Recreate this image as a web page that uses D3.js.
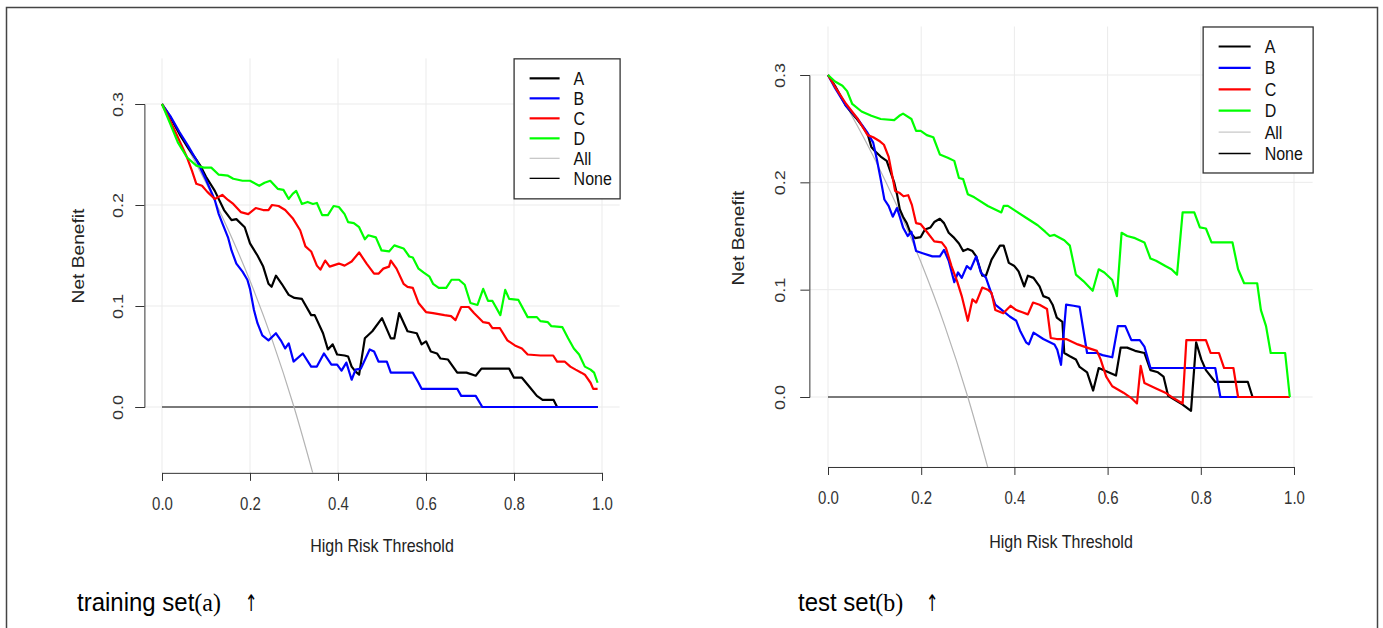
<!DOCTYPE html>
<html><head><meta charset="utf-8">
<script src="https://cdn.jsdelivr.net/npm/d3@7"></script>
<style>
body{margin:0;background:#fff;}
svg text{font-family:"Liberation Sans",Arial,sans-serif;}
</style></head>
<body><svg id="c" width="1383" height="628"></svg>
<script>
// ---------- DATA ----------
const xTicks = [0, 0.2, 0.4, 0.6, 0.8, 1.0];
const yTicks = [0, 0.1, 0.2, 0.3];
const seriesNames = ["A", "B", "C", "D", "All", "None"];
const seriesColors = ["#000000", "#0000FF", "#FF0000", "#00FF00", "#BEBEBE", "#000000"];

// treat-all curve (prevalence 0.3)
const allCurve = [[0,0.3],[0.05,0.263],[0.1,0.222],[0.15,0.176],[0.2,0.125],[0.25,0.067],[0.3,0.0],[0.35,-0.077]];
const noneCurve = [[0,0],[0.99,0]];

// training set (a)
const trainA = [[0,0.3],[0.019,0.287],[0.04,0.27],[0.06,0.256],[0.078,0.245],[0.087,0.239],[0.1,0.228],[0.12,0.214],[0.141,0.195],[0.158,0.185],[0.169,0.186],[0.188,0.178],[0.2,0.162],[0.217,0.15],[0.23,0.139],[0.242,0.122],[0.249,0.119],[0.259,0.13],[0.272,0.122],[0.288,0.111],[0.301,0.108],[0.318,0.107],[0.339,0.091],[0.347,0.091],[0.366,0.073],[0.377,0.057],[0.388,0.062],[0.398,0.052],[0.415,0.051],[0.423,0.05],[0.431,0.04],[0.44,0.035],[0.448,0.032],[0.461,0.068],[0.478,0.075],[0.5,0.088],[0.52,0.068],[0.528,0.068],[0.539,0.093],[0.558,0.075],[0.579,0.073],[0.59,0.062],[0.6,0.065],[0.611,0.055],[0.625,0.053],[0.633,0.048],[0.65,0.047],[0.671,0.034],[0.692,0.034],[0.713,0.031],[0.726,0.038],[0.789,0.038],[0.8,0.029],[0.818,0.029],[0.835,0.02],[0.852,0.011],[0.865,0.007],[0.89,0.007],[0.898,0],[0.99,0]];
const trainB = [[0,0.3],[0.019,0.288],[0.04,0.272],[0.06,0.258],[0.08,0.243],[0.1,0.225],[0.12,0.205],[0.129,0.191],[0.137,0.182],[0.15,0.168],[0.158,0.155],[0.169,0.142],[0.183,0.134],[0.194,0.126],[0.2,0.117],[0.209,0.096],[0.217,0.083],[0.228,0.071],[0.242,0.066],[0.259,0.073],[0.27,0.066],[0.28,0.058],[0.288,0.063],[0.299,0.045],[0.32,0.053],[0.339,0.04],[0.352,0.04],[0.368,0.053],[0.385,0.042],[0.398,0.042],[0.408,0.036],[0.419,0.044],[0.431,0.027],[0.44,0.037],[0.452,0.038],[0.472,0.057],[0.482,0.055],[0.492,0.045],[0.511,0.045],[0.52,0.034],[0.57,0.034],[0.583,0.024],[0.59,0.018],[0.671,0.018],[0.68,0.011],[0.713,0.011],[0.728,0],[0.99,0]];
const trainC = [[0,0.3],[0.019,0.283],[0.036,0.267],[0.057,0.247],[0.068,0.234],[0.078,0.221],[0.091,0.219],[0.103,0.213],[0.12,0.206],[0.137,0.21],[0.15,0.205],[0.162,0.201],[0.179,0.193],[0.196,0.191],[0.213,0.197],[0.23,0.195],[0.242,0.195],[0.25,0.2],[0.265,0.199],[0.28,0.195],[0.297,0.187],[0.314,0.175],[0.326,0.159],[0.339,0.154],[0.352,0.14],[0.36,0.136],[0.371,0.145],[0.381,0.139],[0.402,0.142],[0.415,0.14],[0.431,0.144],[0.448,0.153],[0.465,0.142],[0.482,0.132],[0.492,0.132],[0.503,0.137],[0.516,0.139],[0.52,0.145],[0.533,0.137],[0.549,0.122],[0.558,0.119],[0.57,0.118],[0.583,0.103],[0.6,0.094],[0.616,0.093],[0.642,0.091],[0.657,0.09],[0.667,0.086],[0.68,0.099],[0.697,0.099],[0.709,0.093],[0.73,0.084],[0.743,0.083],[0.751,0.078],[0.768,0.078],[0.785,0.066],[0.802,0.061],[0.818,0.058],[0.831,0.052],[0.86,0.051],[0.889,0.051],[0.898,0.045],[0.915,0.045],[0.928,0.04],[0.94,0.037],[0.953,0.034],[0.961,0.032],[0.974,0.024],[0.98,0.018],[0.99,0.018]];
const trainD = [[0,0.3],[0.019,0.28],[0.036,0.262],[0.057,0.247],[0.078,0.239],[0.095,0.237],[0.112,0.237],[0.129,0.23],[0.15,0.229],[0.162,0.226],[0.183,0.224],[0.2,0.224],[0.221,0.219],[0.233,0.222],[0.246,0.224],[0.263,0.216],[0.276,0.215],[0.288,0.206],[0.297,0.211],[0.305,0.214],[0.318,0.201],[0.331,0.203],[0.343,0.201],[0.352,0.202],[0.364,0.19],[0.377,0.19],[0.39,0.199],[0.402,0.198],[0.415,0.191],[0.423,0.183],[0.436,0.182],[0.448,0.178],[0.461,0.166],[0.469,0.17],[0.486,0.168],[0.499,0.155],[0.516,0.154],[0.528,0.16],[0.549,0.157],[0.562,0.149],[0.57,0.148],[0.583,0.137],[0.595,0.133],[0.608,0.129],[0.616,0.122],[0.629,0.118],[0.646,0.118],[0.658,0.126],[0.675,0.126],[0.688,0.121],[0.701,0.103],[0.717,0.101],[0.73,0.117],[0.741,0.105],[0.751,0.105],[0.769,0.091],[0.78,0.116],[0.789,0.107],[0.81,0.106],[0.831,0.089],[0.852,0.089],[0.86,0.085],[0.877,0.084],[0.885,0.08],[0.91,0.079],[0.923,0.068],[0.936,0.058],[0.948,0.052],[0.961,0.04],[0.974,0.037],[0.982,0.034],[0.99,0.024]];

// test set (b)
const testA = [[0,0.3],[0.015,0.29],[0.039,0.271],[0.06,0.26],[0.076,0.251],[0.085,0.245],[0.093,0.233],[0.101,0.229],[0.113,0.224],[0.126,0.22],[0.134,0.21],[0.142,0.2],[0.148,0.189],[0.154,0.175],[0.161,0.168],[0.169,0.162],[0.177,0.153],[0.187,0.148],[0.199,0.149],[0.208,0.156],[0.22,0.158],[0.228,0.163],[0.24,0.166],[0.249,0.162],[0.259,0.153],[0.269,0.149],[0.281,0.143],[0.29,0.136],[0.3,0.138],[0.31,0.136],[0.318,0.131],[0.331,0.113],[0.339,0.113],[0.351,0.128],[0.369,0.141],[0.377,0.141],[0.388,0.125],[0.4,0.122],[0.409,0.117],[0.421,0.103],[0.429,0.113],[0.441,0.111],[0.454,0.103],[0.462,0.094],[0.474,0.092],[0.482,0.086],[0.491,0.074],[0.503,0.07],[0.507,0.041],[0.519,0.038],[0.532,0.035],[0.54,0.028],[0.556,0.023],[0.569,0.006],[0.581,0.027],[0.597,0.024],[0.618,0.02],[0.628,0.046],[0.642,0.046],[0.659,0.043],[0.679,0.041],[0.692,0.025],[0.708,0.023],[0.72,0.019],[0.73,0.001],[0.761,-0.007],[0.779,-0.013],[0.79,0.051],[0.801,0.035],[0.811,0.025],[0.831,0.014],[0.901,0.014],[0.911,0],[0.99,0]];
const testB = [[0,0.3],[0.015,0.288],[0.039,0.271],[0.064,0.259],[0.085,0.246],[0.097,0.237],[0.105,0.221],[0.113,0.203],[0.121,0.184],[0.13,0.178],[0.139,0.168],[0.148,0.176],[0.154,0.168],[0.161,0.158],[0.171,0.15],[0.179,0.154],[0.189,0.136],[0.203,0.134],[0.224,0.131],[0.24,0.131],[0.249,0.137],[0.259,0.127],[0.271,0.107],[0.279,0.116],[0.287,0.111],[0.298,0.122],[0.306,0.119],[0.318,0.131],[0.328,0.116],[0.339,0.111],[0.359,0.086],[0.376,0.08],[0.39,0.075],[0.404,0.071],[0.413,0.061],[0.425,0.051],[0.431,0.049],[0.441,0.06],[0.462,0.054],[0.486,0.049],[0.492,0.044],[0.5,0.03],[0.511,0.086],[0.527,0.085],[0.54,0.084],[0.556,0.041],[0.577,0.041],[0.589,0.039],[0.61,0.037],[0.622,0.066],[0.638,0.066],[0.651,0.053],[0.669,0.053],[0.679,0.047],[0.692,0.027],[0.831,0.027],[0.842,0],[0.99,0]];
const testC = [[0,0.3],[0.015,0.289],[0.039,0.273],[0.064,0.259],[0.085,0.244],[0.097,0.242],[0.112,0.238],[0.12,0.235],[0.13,0.224],[0.138,0.206],[0.144,0.192],[0.154,0.19],[0.162,0.187],[0.172,0.188],[0.18,0.179],[0.189,0.162],[0.199,0.161],[0.212,0.154],[0.228,0.145],[0.244,0.144],[0.253,0.139],[0.265,0.122],[0.277,0.108],[0.287,0.094],[0.3,0.071],[0.31,0.091],[0.318,0.088],[0.331,0.102],[0.343,0.1],[0.351,0.097],[0.359,0.081],[0.376,0.078],[0.392,0.085],[0.404,0.081],[0.417,0.079],[0.429,0.077],[0.44,0.088],[0.454,0.086],[0.47,0.082],[0.478,0.055],[0.491,0.054],[0.511,0.054],[0.536,0.049],[0.556,0.046],[0.577,0.043],[0.585,0.035],[0.597,0.019],[0.61,0.01],[0.634,0.004],[0.651,-0.001],[0.663,-0.006],[0.671,0.029],[0.679,0.013],[0.704,0.008],[0.724,0.004],[0.741,-0.001],[0.761,-0.006],[0.769,0.053],[0.811,0.053],[0.821,0.041],[0.839,0.041],[0.85,0.027],[0.87,0.027],[0.88,0],[0.99,0]];
const testD = [[0,0.3],[0.015,0.294],[0.031,0.29],[0.041,0.285],[0.052,0.273],[0.072,0.266],[0.093,0.262],[0.113,0.259],[0.142,0.258],[0.153,0.262],[0.161,0.264],[0.179,0.259],[0.189,0.248],[0.199,0.248],[0.212,0.244],[0.226,0.242],[0.24,0.226],[0.257,0.223],[0.271,0.22],[0.281,0.204],[0.29,0.203],[0.3,0.189],[0.314,0.186],[0.343,0.178],[0.372,0.172],[0.377,0.178],[0.386,0.178],[0.404,0.173],[0.425,0.167],[0.45,0.16],[0.466,0.154],[0.476,0.15],[0.486,0.151],[0.507,0.146],[0.519,0.141],[0.532,0.114],[0.548,0.108],[0.568,0.099],[0.581,0.119],[0.593,0.116],[0.61,0.109],[0.62,0.094],[0.63,0.153],[0.642,0.15],[0.659,0.148],[0.679,0.144],[0.692,0.129],[0.704,0.127],[0.724,0.122],[0.737,0.119],[0.749,0.114],[0.761,0.172],[0.786,0.172],[0.798,0.158],[0.811,0.157],[0.823,0.144],[0.868,0.144],[0.88,0.119],[0.893,0.106],[0.921,0.106],[0.929,0.081],[0.94,0.066],[0.95,0.041],[0.981,0.041],[0.991,0]];

// ---------- DRAW ----------
const SY = 1.2; // vertical stretch of the original picture's text
const svg = d3.select("#c");
svg.append("rect").attr("x",6.5).attr("y",7.5).attr("width",1371).attr("height",640)
  .attr("fill","none").attr("stroke","#444").attr("stroke-width",1.5);

const panels = [
  {id:"a", x0:162, x1:602, y0:407, y3:104, series:[trainA,trainB,trainC,trainD],
   legend:{w:106,h:140,dy:20,first:20,l0:16,l1:46,tx:60},
   yLabX:118, titleX:78, titleY:256, xLabY:503, xTitleY:545},
  {id:"b", x0:828, x1:1294, y0:397, y3:75, series:[testA,testB,testC,testD],
   legend:{w:110,h:146,dy:21.4,first:20,l0:16,l1:48,tx:62},
   yLabX:779, titleX:738, titleY:238, xLabY:497, xTitleY:541}
];

panels.forEach(p => {
  const x = d3.scaleLinear().domain([0,1]).range([p.x0,p.x1]);
  const y = d3.scaleLinear().domain([0,0.3]).range([p.y0,p.y3]);
  const L = x(-0.04), R = x(1.04), B = y(-0.0652), T = y(0.3452);
  const g = svg.append("g");

  // grid
  g.selectAll(".vg").data(xTicks).join("line")
    .attr("x1",d=>x(d)).attr("x2",d=>x(d)).attr("y1",T).attr("y2",B)
    .attr("stroke","#EBEBEB").attr("stroke-width",1);
  g.selectAll(".hg").data(yTicks).join("line")
    .attr("x1",L).attr("x2",R).attr("y1",d=>y(d)).attr("y2",d=>y(d))
    .attr("stroke","#EBEBEB").attr("stroke-width",1);

  // axes
  const ax = g.append("g").attr("transform",`translate(0,${B})`)
    .call(d3.axisBottom(x).tickValues(xTicks).tickSize(8).tickFormat(d3.format(".1f")));
  const ay = g.append("g").attr("transform",`translate(${L},0)`)
    .call(d3.axisLeft(y).tickValues(yTicks).tickSize(9).tickFormat(d3.format(".1f")));
  [ax,ay].forEach(a=>{
    a.select(".domain").attr("stroke","#333");
    a.selectAll(".tick line").attr("stroke","#333");
    a.selectAll(".tick text").attr("fill","#333").attr("font-size",15)
      .style("font-family","'Liberation Sans',Arial,sans-serif").attr("dy",null);
  });
  ax.selectAll(".tick text").attr("y",0)
    .attr("transform",`translate(0,${p.xLabY - B + 6.5}) scale(1,${SY})`);
  ay.selectAll(".tick text").attr("x",0).attr("y",0).attr("text-anchor","middle")
    .attr("transform",`translate(${p.yLabX - L + 5.5},0) scale(1,${SY}) rotate(-90)`);

  // axis titles
  g.append("text").attr("transform",`translate(${(p.x0+p.x1)/2},${p.xTitleY+6.5}) scale(1,${SY})`)
    .attr("text-anchor","middle").attr("font-size",16).attr("fill","#222").text("High Risk Threshold");
  g.append("text").attr("transform",`translate(${p.titleX+6},${p.titleY}) scale(1,${SY}) rotate(-90)`)
    .attr("text-anchor","middle").attr("font-size",16).attr("fill","#222").text("Net Benefit");

  // clip
  const cid = "clip"+p.id;
  svg.append("clipPath").attr("id",cid).append("rect")
    .attr("x",L).attr("y",T).attr("width",R-L).attr("height",B-T);
  const pg = g.append("g").attr("clip-path",`url(#${cid})`);
  const line = d3.line().x(d=>x(d[0])).y(d=>y(d[1]));

  pg.append("path").datum(noneCurve).attr("d",line).attr("fill","none")
    .attr("stroke","#000").attr("stroke-width",1.2);
  pg.append("path").datum(allCurve).attr("d",d3.line().curve(d3.curveMonotoneX).x(d=>x(d[0])).y(d=>y(d[1])))
    .attr("fill","none").attr("stroke","#B4B4B4").attr("stroke-width",1.2);
  p.series.forEach((s,i)=>{
    pg.append("path").datum(s).attr("d",line).attr("fill","none")
      .attr("stroke",seriesColors[i]).attr("stroke-width",2.2).attr("stroke-linejoin","round");
  });

  // legend
  const lg = p.legend;
  const lx = R - lg.w, ly = T;
  const leg = g.append("g").attr("transform",`translate(${lx},${ly})`);
  leg.append("rect").attr("x",0.5).attr("y",0.5).attr("width",lg.w).attr("height",lg.h)
    .attr("fill","#fff").attr("stroke","#333").attr("stroke-width",1.3);
  seriesNames.forEach((n,i)=>{
    const yy = lg.first + i*lg.dy;
    leg.append("line").attr("x1",lg.l0).attr("x2",lg.l1).attr("y1",yy).attr("y2",yy)
      .attr("stroke", i===4 ? "#C8C8C8" : seriesColors[i]).attr("stroke-width", i<4 ? 2.2 : 1.3);
    leg.append("text").attr("transform",`translate(${lg.tx},${yy+6.5}) scale(1,1.12)`)
      .attr("font-size",16).attr("fill","#111").text(n);
  });
});

// captions
const caps = [{x:77, main:"training set", par:"(a)", ax:251},{x:798, main:"test set", par:"(b)", ax:932}];
caps.forEach(c=>{
  const t = svg.append("text").attr("transform",`translate(${c.x},611) scale(1,1.08)`)
    .attr("font-size",24).attr("fill","#000")
    .style("font-family","'Liberation Sans',Arial,sans-serif");
  t.append("tspan").text(c.main);
  t.append("tspan").style("font-family","'Liberation Serif','Times New Roman',serif").text(c.par);
  svg.append("text").attr("transform",`translate(${c.ax},611) scale(0.75,1.15)`).attr("text-anchor","middle")
    .attr("font-size",20).attr("fill","#000")
    .style("font-family","'DejaVu Sans',sans-serif").text("↑");
});
</script></body></html>
